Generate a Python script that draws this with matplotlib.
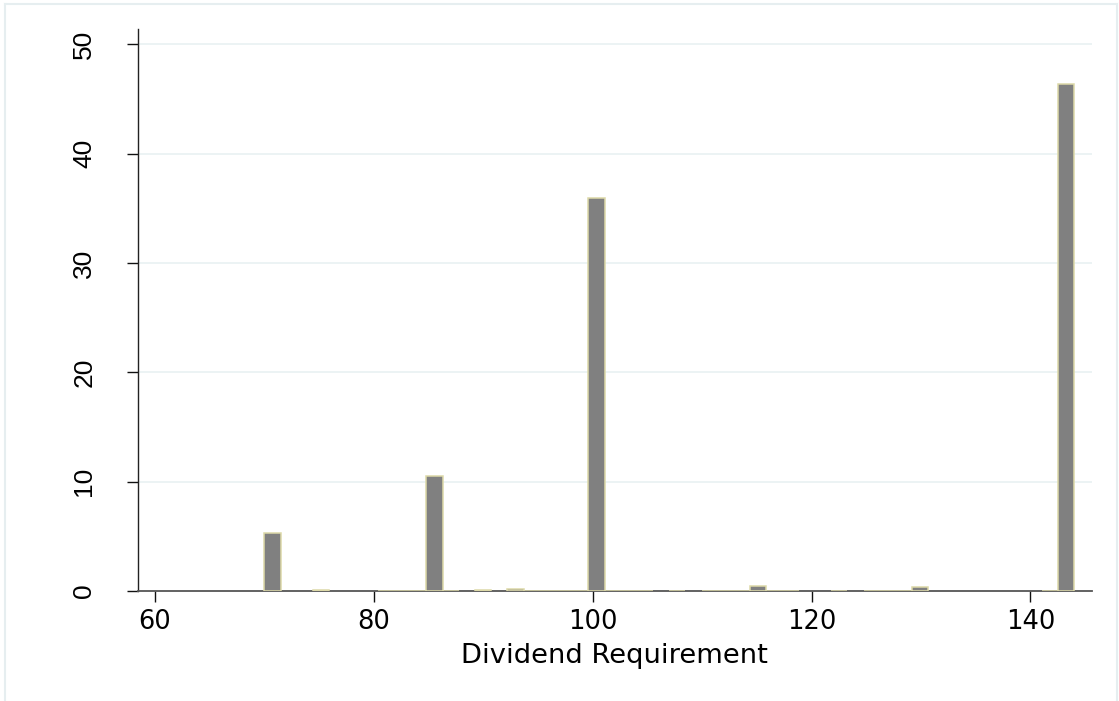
import matplotlib
matplotlib.use("Agg")
import matplotlib.pyplot as plt
import numpy as np
from matplotlib.lines import Line2D

# Histogram data (percent per bin), 50 bins of equal width from 70 to 144
bin_start = 70.0
bin_width = 1.48
percent = [
    5.27, 0, 0, 0.08, 0, 0, 0, 0.02, 0.02, 0.02,
    10.5, 0.02, 0, 0.12, 0, 0.22, 0.02, 0.02, 0.02, 0.02,
    35.9, 0.02, 0.02, 0.02, 0, 0.02, 0, 0.02, 0.02, 0.02,
    0.48, 0.02, 0.02, 0, 0, 0.02, 0, 0.02, 0.02, 0.02,
    0.34, 0, 0, 0, 0, 0, 0, 0, 0.02, 46.4,
]
x_ticks = [60, 80, 100, 120, 140]
y_ticks = [0, 10, 20, 30, 40, 50]
x_label = "Dividend Requirement"

plt.rcParams['font.family'] = ['DejaVu Sans']

fig = plt.figure(figsize=(11.19, 7.01), dpi=100)
fig.patch.set_facecolor('white')
W, H = 1119, 701
ax = fig.add_axes([138 / W, 1 - 591 / H, (1091.7 - 138) / W, (591 - 29) / H])

pct = np.array(percent, dtype=float)
lefts = bin_start + bin_width * np.arange(len(pct))
mask = pct > 0
ax.bar(lefts[mask], pct[mask], width=bin_width, align='edge',
       color='#808080', edgecolor='#ddd9a8', linewidth=1.1, zorder=3)

ax.set_xlim(58.45, 145.6)
ax.set_ylim(0, 51.4)
ax.set_xticks(x_ticks)
ax.set_xticklabels([str(v) for v in x_ticks], fontsize=18.5, family=['DejaVu Sans'])
ax.set_yticks(y_ticks)
ax.set_yticklabels([str(v) for v in y_ticks], rotation=90, va='center',
                   fontsize=19, family=['Liberation Sans', 'DejaVu Sans'])
ax.set_xlabel(x_label, fontsize=19.7, labelpad=6)

for s in ['top', 'right']:
    ax.spines[s].set_visible(False)
ax.spines['left'].set_color('#222222')
ax.spines['bottom'].set_color('#555555')
ax.spines['left'].set_linewidth(1.0)
ax.spines['bottom'].set_linewidth(1.3)

ax.tick_params(axis='both', length=8, width=1.0, color='#111111')
ax.tick_params(axis='x', pad=5)
ax.tick_params(axis='y', pad=22)

for v in y_ticks[1:]:
    ax.axhline(v, color='#eaf2f3', linewidth=1.3, zorder=1)

# outer graph-region frame
frame_color = '#e6eef0'
fig.add_artist(Line2D([5 / W, 1117 / W], [1 - 4 / H, 1 - 4 / H], transform=fig.transFigure, color=frame_color, linewidth=1.5))
fig.add_artist(Line2D([5 / W, 5 / W], [0, 1 - 4 / H], transform=fig.transFigure, color=frame_color, linewidth=1.5))
fig.add_artist(Line2D([1117 / W, 1117 / W], [0, 1 - 4 / H], transform=fig.transFigure, color=frame_color, linewidth=1.5))

fig.savefig("out.png", dpi=100)
